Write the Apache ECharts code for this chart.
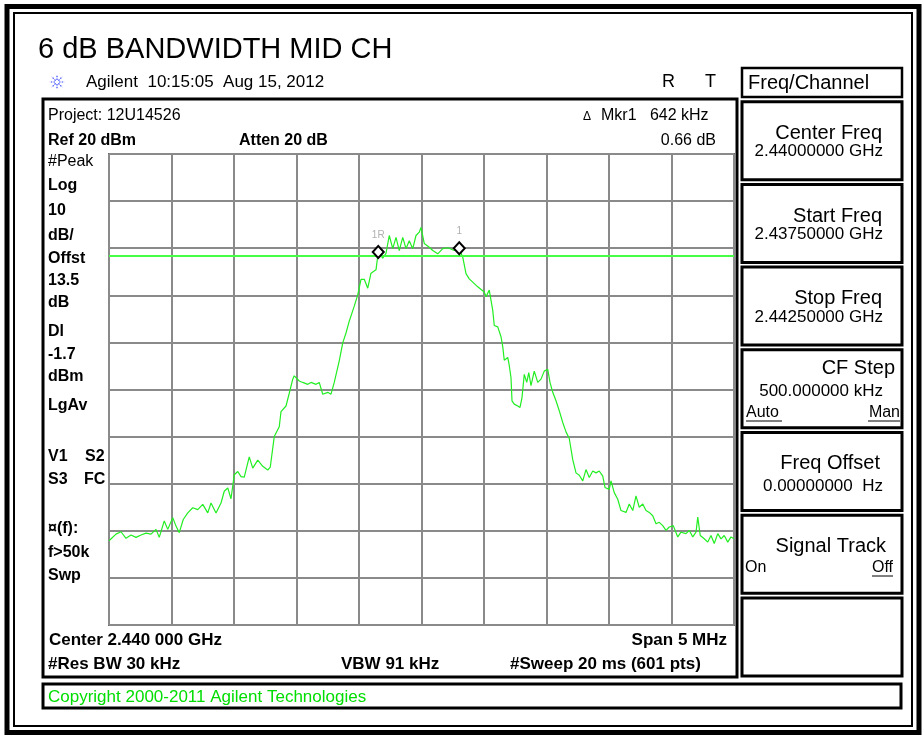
<!DOCTYPE html>
<html>
<head>
<meta charset="utf-8">
<script src="https://cdn.jsdelivr.net/npm/echarts@6/dist/echarts.min.js"></script>
<style>
  html, body { margin: 0; padding: 0; background: #fff; }
  #main { width: 923px; height: 738px; }
</style>
</head>
<body>
<div id="main"></div>
<script>
// sweep settings
var startFreq = 2437.5;   // MHz
var stopFreq = 2442.5;    // MHz
var refLevel = 20;        // dBm, top of screen
var bottomLevel = -80;    // dBm
var displayLine = -1.7;   // dBm

// trace (MHz / dBm)
var freqMHz = [
  2437.500, 2437.556, 2437.596, 2437.636, 2437.676, 2437.716, 2437.756, 2437.796, 2437.836, 2437.876,
  2437.902, 2437.942, 2437.970, 2438.010, 2438.036, 2438.062, 2438.094, 2438.130, 2438.170, 2438.210,
  2438.250, 2438.290, 2438.316, 2438.356, 2438.396, 2438.422, 2438.450, 2438.476, 2438.502, 2438.530,
  2438.556, 2438.582, 2438.622, 2438.650, 2438.690, 2438.730, 2438.770, 2438.790, 2438.822, 2438.862,
  2438.876, 2438.916, 2438.942, 2438.970, 2438.982, 2439.022, 2439.050, 2439.090, 2439.116, 2439.156,
  2439.182, 2439.210, 2439.250, 2439.276, 2439.302, 2439.342, 2439.370, 2439.396, 2439.422, 2439.462,
  2439.490, 2439.516, 2439.542, 2439.570, 2439.596, 2439.636, 2439.654, 2439.662, 2439.690, 2439.716,
  2439.742, 2439.770, 2439.796, 2439.822, 2439.850, 2439.876, 2439.902, 2439.930, 2439.956, 2439.982,
  2439.996, 2440.022, 2440.062, 2440.090, 2440.130, 2440.170, 2440.210, 2440.262, 2440.302, 2440.330,
  2440.356, 2440.382, 2440.410, 2440.450, 2440.502, 2440.516, 2440.542, 2440.570, 2440.582, 2440.610,
  2440.636, 2440.650, 2440.662, 2440.690, 2440.702, 2440.716, 2440.724, 2440.742, 2440.770, 2440.788,
  2440.804, 2440.822, 2440.842, 2440.858, 2440.876, 2440.902, 2440.930, 2440.956, 2440.982, 2441.010,
  2441.028, 2441.050, 2441.076, 2441.102, 2441.130, 2441.156, 2441.182, 2441.210, 2441.236, 2441.262,
  2441.290, 2441.316, 2441.342, 2441.370, 2441.396, 2441.422, 2441.450, 2441.468, 2441.502, 2441.516,
  2441.542, 2441.570, 2441.596, 2441.636, 2441.662, 2441.690, 2441.716, 2441.742, 2441.770, 2441.796,
  2441.822, 2441.850, 2441.876, 2441.902, 2441.930, 2441.956, 2441.982, 2442.014, 2442.050, 2442.076,
  2442.116, 2442.142, 2442.170, 2442.196, 2442.210, 2442.230, 2442.262, 2442.290, 2442.316, 2442.342,
  2442.370, 2442.396, 2442.422, 2442.450, 2442.476, 2442.500
];
var levelDbm = [
  -62.1, -60.7, -60.2, -61.6, -60.9, -61.4, -60.9, -60.5, -60.7, -59.7,
  -61.4, -57.9, -59.7, -57.2, -59.0, -60.4, -57.6, -56.2, -55.1, -55.5,
  -54.4, -56.2, -54.1, -56.2, -54.1, -51.6, -50.9, -53.2, -48.1, -47.4,
  -48.5, -48.6, -44.3, -46.7, -45.0, -46.3, -47.1, -46.5, -40.0, -37.9,
  -34.7, -33.5, -30.8, -27.8, -27.1, -28.2, -28.5, -28.9, -28.5, -28.9,
  -28.5, -31.0, -30.6, -31.0, -28.5, -23.9, -20.1, -18.0, -15.5, -12.3,
  -9.9, -6.6, -6.6, -8.5, -5.3, -4.6, -0.8, -0.6, -2.1, -1.1,
  2.7, -0.1, 2.3, -0.5, 2.3, -0.1, 1.6, -0.1, 2.7, 3.4,
  4.4, 1.0, 0.2, -0.5, -1.2, -0.1, 0.1, -0.5, -0.1, -1.9,
  -5.4, -6.5, -7.2, -8.2, -9.3, -10.3, -8.9, -13.2, -16.4, -16.7,
  -18.8, -20.9, -23.8, -23.2, -24.9, -27.5, -32.4, -33.1, -33.5, -33.8,
  -31.7, -26.8, -28.5, -26.4, -29.2, -26.1, -28.5, -27.8, -26.1, -25.7,
  -28.5, -30.6, -32.4, -34.5, -37.0, -39.0, -40.4, -44.9, -47.7, -48.2,
  -49.4, -47.0, -48.7, -47.3, -47.7, -47.3, -48.4, -50.8, -51.2, -49.4,
  -51.9, -53.3, -55.7, -56.1, -54.3, -55.7, -52.6, -55.0, -54.3, -55.7,
  -56.1, -56.8, -58.5, -58.2, -58.9, -59.9, -59.2, -58.9, -61.3, -60.3,
  -60.6, -59.9, -61.3, -60.3, -57.1, -61.0, -61.7, -62.4, -61.0, -62.7,
  -60.6, -61.7, -61.0, -62.4, -61.3, -61.7
];

// markers
var markerNames = ["1R", "1"];
var markerFreq = [2439.654, 2440.302];
var markerLevel = [-0.8, 0.0];

// annotation texts
var leftLabels = ["Log", "10", "dB/", "Offst", "13.5", "dB", "Dl", "-1.7", "dBm", "LgAv", "V1", "S3", "\u00a4(f):", "f>50k", "Swp"];
var leftLabelY = [186, 211, 236, 259, 281, 303, 332, 355, 377, 406, 457, 480, 529, 553, 576];
var softkeyTitles = ["Center Freq", "Start Freq", "Stop Freq", "CF Step", "Freq Offset", "Signal Track"];
var softkeyValues = ["2.44000000 GHz", "2.43750000 GHz", "2.44250000 GHz", "500.000000 kHz", "0.00000000  Hz", ""];

var FONT = '"Liberation Sans", Arial, sans-serif';

function txt(s, x, y, size, o) {
  o = o || {};
  return {
    type: "text", x: x, y: y, z: 100,
    style: {
      text: s,
      fill: o.fill || "#000",
      font: (o.bold ? "bold " : "") + size + "px " + FONT,
      align: o.align || "left",
      verticalAlign: "middle"
    }
  };
}
function box(x, y, w, h, lw) {
  return { type: "rect", z: 90, shape: { x: x, y: y, width: w, height: h },
    style: { fill: "none", stroke: "#000", lineWidth: lw } };
}
function seg(x1, y1, x2, y2, lw, color, dash) {
  return { type: "line", z: 95, shape: { x1: x1, y1: y1, x2: x2, y2: y2 },
    style: { stroke: color || "#000", lineWidth: lw, lineDash: dash || null } };
}

var graphics = [];
// frames
graphics.push(box(7, 6.5, 912, 726, 5));
graphics.push(box(14, 13, 898, 713, 2));
graphics.push(box(43, 99, 694, 578, 3));
graphics.push(box(43, 684, 858, 24, 3));
graphics.push(box(742, 68, 160, 29, 2.5));

// header
graphics.push(txt("6 dB BANDWIDTH MID CH", 38, 50, 29));
for (var k = 0; k < 8; k++) {
  var a = k * Math.PI / 4;
  graphics.push(seg(57 + 2 * Math.cos(a), 82 + 2 * Math.sin(a), 57 + 7.5 * Math.cos(a), 82 + 7.5 * Math.sin(a), 1.2, "#3344ff", [1.5, 1.2]));
}
graphics.push(txt("Agilent  10:15:05  Aug 15, 2012", 86, 82, 17));
graphics.push(txt("R", 662, 82, 18));
graphics.push(txt("T", 705, 82, 18));
graphics.push(txt("Freq/Channel", 748, 83, 20));

// panel top lines
graphics.push(txt("Project: 12U14526", 48, 116, 16));
graphics.push(txt("Ref 20 dBm", 48, 141, 16, { bold: true }));
graphics.push(txt("Atten 20 dB", 239, 141, 16, { bold: true }));
graphics.push(txt("\u0394", 583, 117, 12));
graphics.push(txt("Mkr1   642 kHz", 601, 116, 16));
graphics.push(txt("0.66 dB", 716, 141, 16, { align: "right" }));

// left side labels
graphics.push(txt("#Peak", 48, 162, 16));
for (var i = 0; i < leftLabels.length; i++) {
  graphics.push(txt(leftLabels[i], 48, leftLabelY[i], 16, { bold: true }));
}
graphics.push(txt("S2", 85, 457, 16, { bold: true }));
graphics.push(txt("FC", 84, 480, 16, { bold: true }));

// bottom lines
graphics.push(txt("Center 2.440 000 GHz", 49, 640, 17, { bold: true }));
graphics.push(txt("Span 5 MHz", 727, 640, 17, { bold: true, align: "right" }));
graphics.push(txt("#Res BW 30 kHz", 48, 664, 17, { bold: true }));
graphics.push(txt("VBW 91 kHz", 341, 664, 17, { bold: true }));
graphics.push(txt("#Sweep 20 ms (601 pts)", 510, 664, 17, { bold: true }));
graphics.push(txt("Copyright 2000-2011 Agilent Technologies", 48, 697, 17, { fill: "#00dd00" }));

// softkeys
var keyTop = [101.7, 184.4, 267.1, 349.8, 432.5, 515.2, 597.9];
var titleRight = [882, 882, 882, 895, 880, 886];
var titleY = [133, 216, 298, 368, 463, 546];
var valueY = [151, 234, 317, 391, 486, 0];
for (var j = 0; j < keyTop.length; j++) {
  graphics.push(box(742, keyTop[j], 160, 78, 3));
}
for (var j2 = 0; j2 < softkeyTitles.length; j2++) {
  graphics.push(txt(softkeyTitles[j2], titleRight[j2], titleY[j2], 20, { align: "right" }));
  if (softkeyValues[j2]) graphics.push(txt(softkeyValues[j2], 883, valueY[j2], 17, { align: "right" }));
}
graphics.push(txt("Auto", 746, 413, 16));
graphics.push(seg(746, 421, 782, 421, 1));
graphics.push(txt("Man", 900, 413, 16, { align: "right" }));
graphics.push(seg(868, 421, 900, 421, 1));
graphics.push(txt("On", 745, 568, 16));
graphics.push(txt("Off", 893, 568, 16, { align: "right" }));
graphics.push(seg(872, 576, 893, 576, 1));

var trace = [];
for (var t = 0; t < freqMHz.length; t++) trace.push([freqMHz[t], levelDbm[t]]);
var markers = [];
for (var m = 0; m < markerNames.length; m++) markers.push({ name: markerNames[m], value: [markerFreq[m], markerLevel[m]] });

var myChart = echarts.init(document.getElementById("main"));
myChart.setOption({
  animation: false,
  backgroundColor: "#fff",
  grid: {
    left: 109, top: 154, width: 625, height: 471,
    show: true, borderColor: "#6a6a6a", borderWidth: 2
  },
  xAxis: {
    type: "value", min: startFreq, max: stopFreq, interval: 0.5,
    axisLabel: { show: false }, axisTick: { show: false }, axisLine: { show: false },
    splitLine: { show: true, lineStyle: { color: "#8a8a8a", width: 2 } }
  },
  yAxis: {
    type: "value", min: bottomLevel, max: refLevel, interval: 10,
    axisLabel: { show: false }, axisTick: { show: false }, axisLine: { show: false },
    splitLine: { show: true, lineStyle: { color: "#8a8a8a", width: 2 } }
  },
  series: [
    {
      type: "line",
      data: trace,
      showSymbol: false,
      z: 3,
      lineStyle: { color: "#22ee22", width: 1.2 },
      markLine: {
        silent: true,
        symbol: "none",
        label: { show: false },
        lineStyle: { color: "#44ff44", width: 2, type: "solid" },
        data: [{ yAxis: displayLine }]
      }
    },
    {
      type: "scatter",
      data: markers,
      symbol: "diamond",
      symbolSize: [11, 12],
      z: 5,
      itemStyle: { color: "#fff", borderColor: "#000", borderWidth: 2, opacity: 1 },
      label: { show: true, position: "top", distance: 5, formatter: "{b}", color: "#b0b0b0", fontSize: 10, fontFamily: FONT }
    }
  ],
  graphic: graphics
});
</script>
</body>
</html>
